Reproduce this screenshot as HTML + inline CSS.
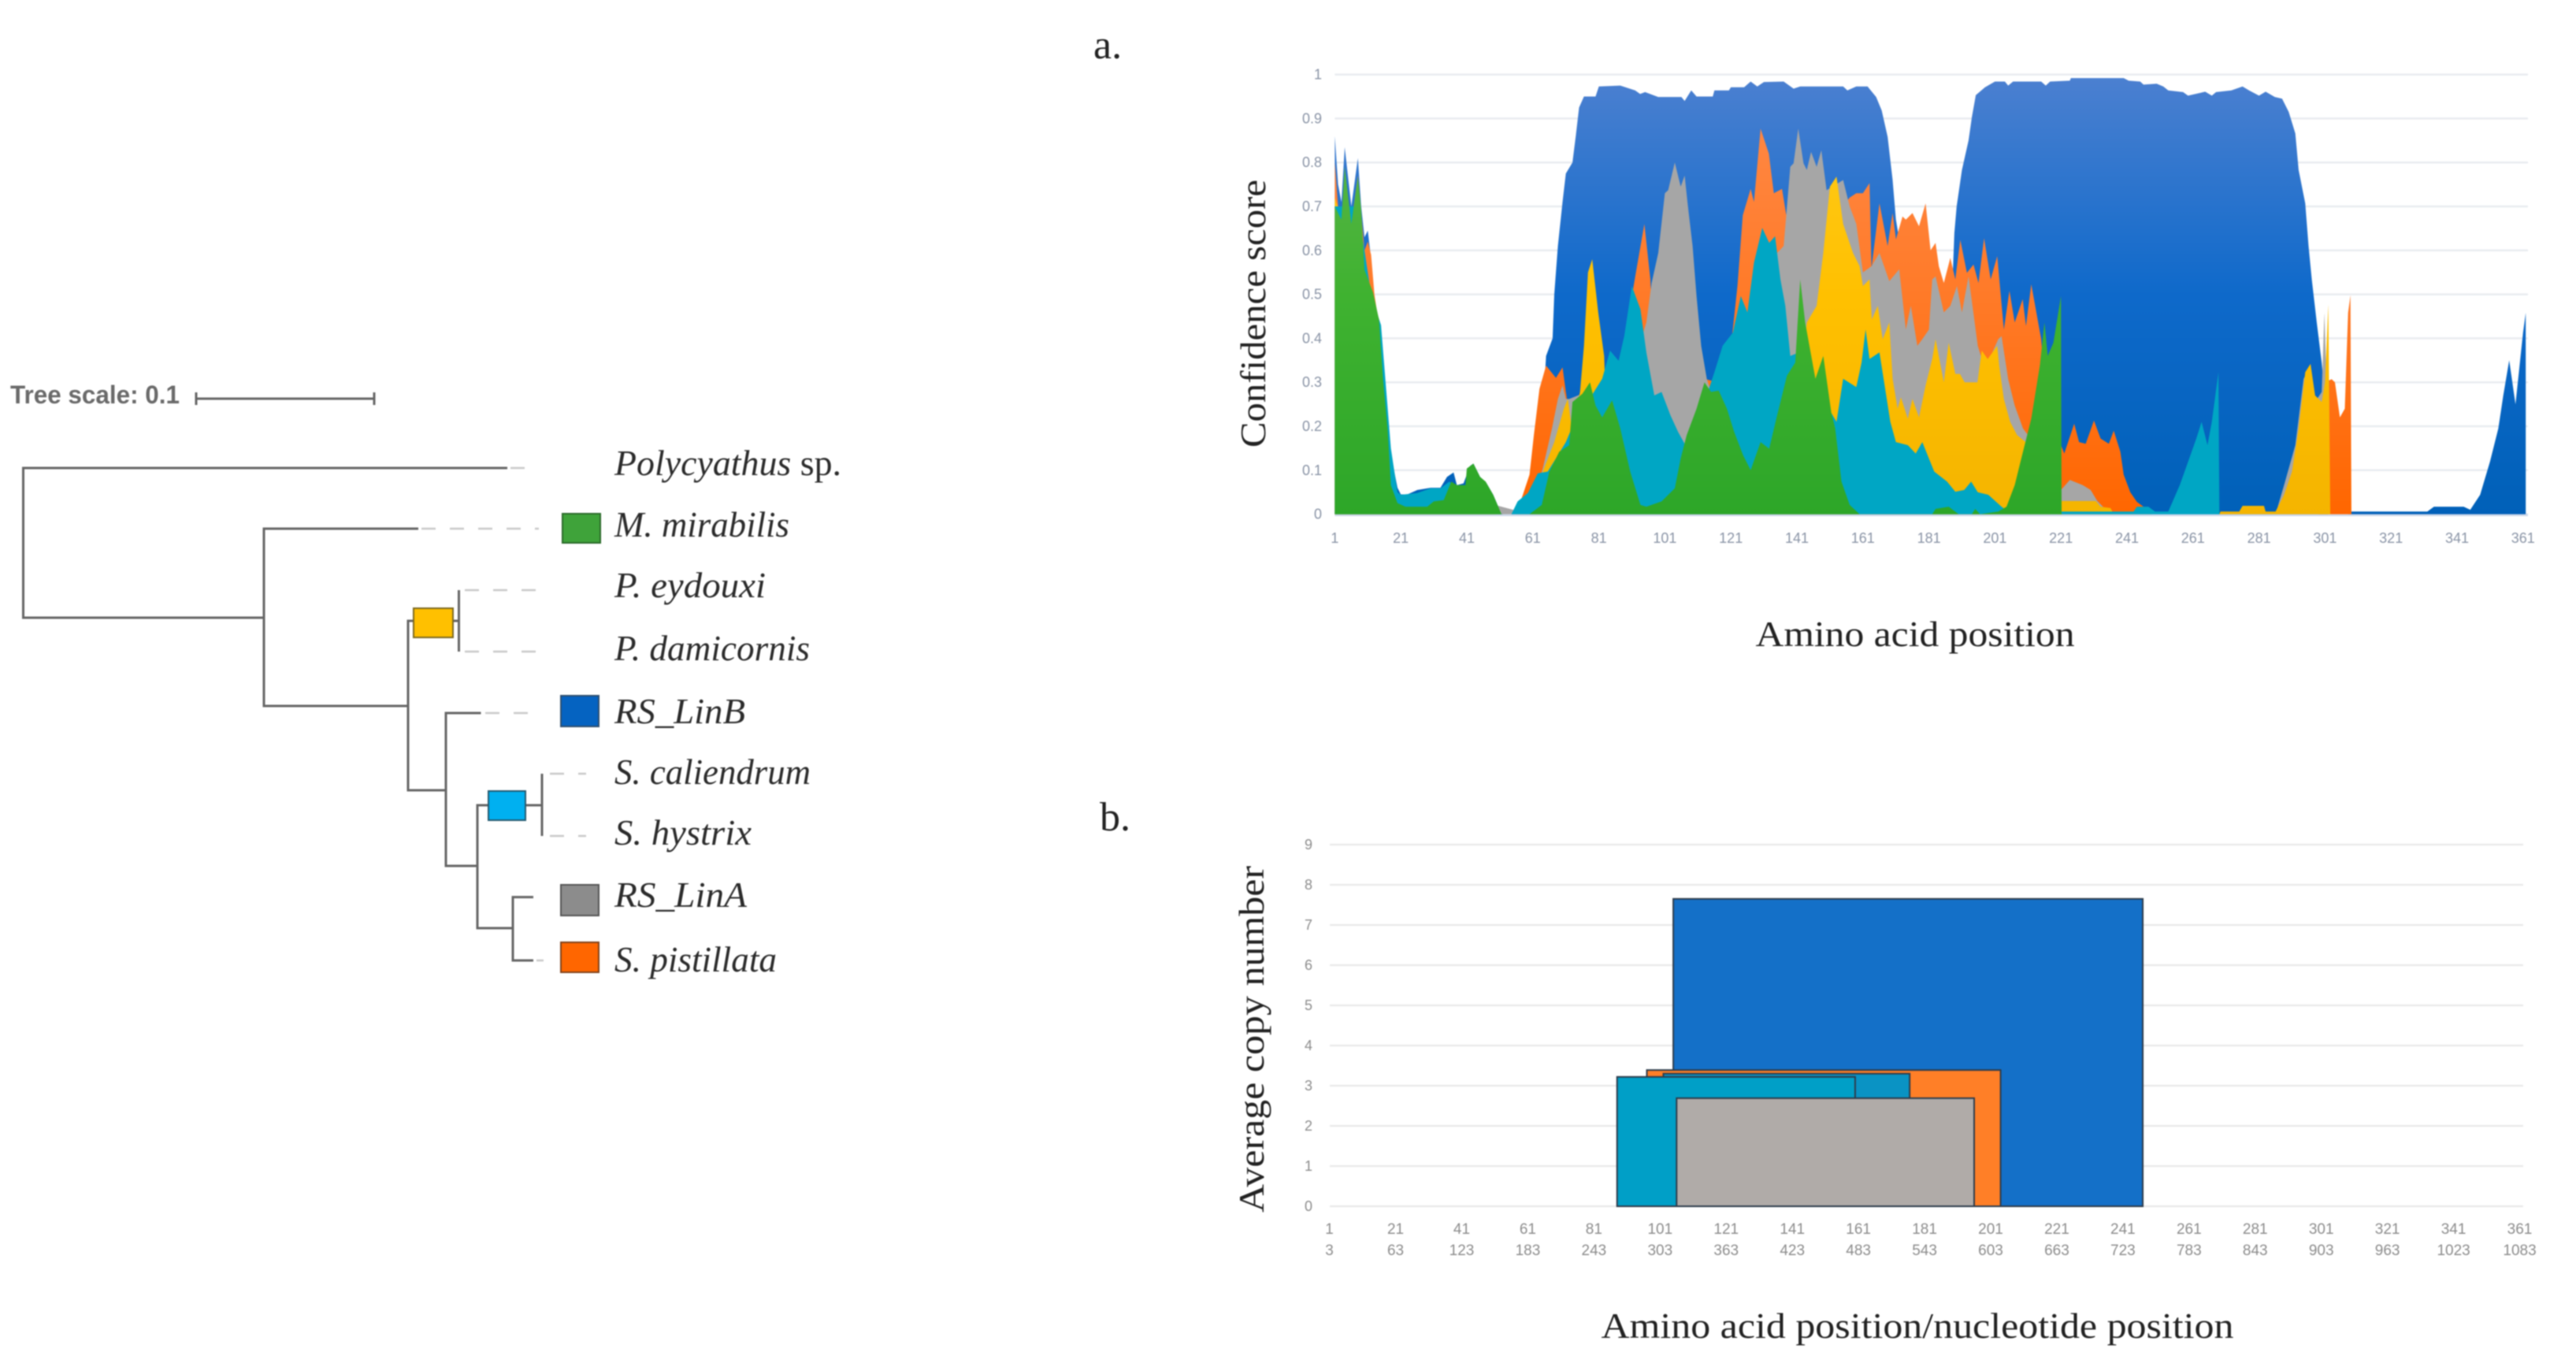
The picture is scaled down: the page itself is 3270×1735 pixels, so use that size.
<!DOCTYPE html>
<html lang="en">
<head>
<meta charset="utf-8">
<title>Tree and confidence charts</title>
<style>
html,body{margin:0;padding:0;background:#fff;width:3270px;height:1735px;overflow:hidden}
svg{display:block;filter:blur(0.9px)}
.sans{font-family:"Liberation Sans",sans-serif}
.serif{font-family:"Liberation Serif",serif}
.sp{font-family:"Liberation Serif",serif;font-style:italic;font-size:46px;fill:#2b2b2b}
.branch{stroke:#666;stroke-width:3;fill:none}
.dash{stroke:#c9c9c9;stroke-width:2.5;stroke-dasharray:18 18;fill:none}
.title{font-family:"Liberation Serif",serif;font-size:46px;fill:#222}
</style>
</head>
<body>
<svg id="figure" xmlns="http://www.w3.org/2000/svg" width="3270" height="1735" viewBox="0 0 3270 1735">
<rect width="3270" height="1735" fill="#fff"/>

<g id="tree">
  <text class="sans" x="13" y="512" font-size="32" font-weight="bold" fill="#6a6a6a" textLength="215" lengthAdjust="spacingAndGlyphs">Tree scale: 0.1</text>
  <path d="M249 506H475M249 498V514M475 498V514" stroke="#666" stroke-width="3" fill="none"/>
  <path class="branch" d="M644 594H29.5V784H335M531 671H335V896H518M582.5 749V827M582.5 788H518V1003H566M610.5 905H566V1099H606M688 982V1061M688 1022H606V1178H651M677 1138.6H651V1219H677"/>
  <path class="dash" d="M648 594H684M535 671H684M590 749H684M590 827H684M616 905H684M698 982H744M698 1061H744M681 1219H690"/>
  <rect x="714" y="652" width="48" height="37" fill="#3fa33a" stroke="#2b6b2a" stroke-width="2"/>
  <rect x="525" y="772" width="50" height="37" fill="#ffc000" stroke="#7d6a20" stroke-width="2"/>
  <rect x="712" y="883" width="48" height="39" fill="#0563c1" stroke="#2f4f70" stroke-width="2"/>
  <rect x="620" y="1004" width="47" height="37" fill="#00b0f0" stroke="#245a70" stroke-width="2"/>
  <rect x="712" y="1123" width="48" height="39" fill="#8c8c8c" stroke="#555" stroke-width="2"/>
  <rect x="712" y="1196" width="48" height="38" fill="#ff6600" stroke="#80431c" stroke-width="2"/>
  <text class="sp" x="780" y="603" textLength="288" lengthAdjust="spacingAndGlyphs">Polycyathus <tspan font-style="normal">sp.</tspan></text>
  <text class="sp" x="780" y="681" textLength="222" lengthAdjust="spacingAndGlyphs">M. mirabilis</text>
  <text class="sp" x="780" y="758" textLength="192" lengthAdjust="spacingAndGlyphs">P. eydouxi</text>
  <text class="sp" x="780" y="838" textLength="248" lengthAdjust="spacingAndGlyphs">P. damicornis</text>
  <text class="sp" x="780" y="918" textLength="166" lengthAdjust="spacingAndGlyphs">RS_LinB</text>
  <text class="sp" x="780" y="995" textLength="249" lengthAdjust="spacingAndGlyphs">S. caliendrum</text>
  <text class="sp" x="780" y="1072" textLength="174" lengthAdjust="spacingAndGlyphs">S. hystrix</text>
  <text class="sp" x="780" y="1151" textLength="168" lengthAdjust="spacingAndGlyphs">RS_LinA</text>
  <text class="sp" x="780" y="1233" textLength="206" lengthAdjust="spacingAndGlyphs">S. pistillata</text>
</g>

<text class="serif" x="1388" y="74" font-size="52" fill="#222">a.</text>
<text class="serif" x="1396" y="1054" font-size="52" fill="#222">b.</text>

<defs>
  <linearGradient id="gBlue" gradientUnits="userSpaceOnUse" x1="0" y1="94" x2="0" y2="653">
    <stop offset="0" stop-color="#4c80d0"/><stop offset="0.5" stop-color="#0e69ca"/><stop offset="1" stop-color="#0060b8"/>
  </linearGradient>
  <linearGradient id="gOrange" gradientUnits="userSpaceOnUse" x1="0" y1="94" x2="0" y2="653">
    <stop offset="0" stop-color="#ff8a4a"/><stop offset="0.5" stop-color="#ff7a28"/><stop offset="1" stop-color="#ff6600"/>
  </linearGradient>
  <linearGradient id="gYellow" gradientUnits="userSpaceOnUse" x1="0" y1="94" x2="0" y2="653">
    <stop offset="0" stop-color="#ffcc20"/><stop offset="0.5" stop-color="#ffc000"/><stop offset="1" stop-color="#f4b400"/>
  </linearGradient>
  <linearGradient id="gGreen" gradientUnits="userSpaceOnUse" x1="0" y1="94" x2="0" y2="653">
    <stop offset="0" stop-color="#62b450"/><stop offset="0.5" stop-color="#3fb230"/><stop offset="1" stop-color="#2da628"/>
  </linearGradient>
</defs>

<g id="chartA"></g>
<text class="title" transform="translate(1606,398) rotate(-90)" text-anchor="middle" textLength="340" lengthAdjust="spacingAndGlyphs">Confidence score</text>
<text class="title" x="2431" y="820" text-anchor="middle" textLength="405" lengthAdjust="spacingAndGlyphs">Amino acid position</text>

<g id="chartB"></g>
<text class="title" transform="translate(1604,1319) rotate(-90)" text-anchor="middle" textLength="440" lengthAdjust="spacingAndGlyphs">Average copy number</text>
<text class="title" x="2434" y="1698" text-anchor="middle" textLength="803" lengthAdjust="spacingAndGlyphs">Amino acid position/nucleotide position</text>
</svg>

<script>
/* ---------- Panel a data ---------- */
const confidenceTicks = [0,0.1,0.2,0.3,0.4,0.5,0.6,0.7,0.8,0.9,1];
const positionTicks = [1,21,41,61,81,101,121,141,161,181,201,221,241,261,281,301,321,341,361];

const bluePos = [1,2,3,4,6,8,9,10,11,12,13,15,16.5,18,20,21,23,26,30,33,35,37,38,40,42,43,45,47,49,51.5,54.5,57.6,61,64,65,67,67.5,68.6,70,71,73,74,75,76.5,80,81,87.5,92,93.5,95,99,106,107,109,110.6,115.5,116,120.4,121,125,127,129,131,137,140,142,155,156.3,159,162.4,165,166.7,168.5,170,171,172,174,178,186,188,188.7,189.4,191,193,194,195.2,198,201,204,205,206.5,215,216.4,217.7,223.7,224,240,241.5,245,246,250,252,253.5,258,259.5,264.7,266.7,268,272.6,276,278,281,283,285.8,288,290,292,293,295,296,297,298.5,300,301,302,308,308.5,332,334,343,345,348,351,353.5,355,356.8,358.7,361,361.8];
const blueVal = [0.86,0.75,0.71,0.835,0.70,0.81,0.70,0.63,0.645,0.58,0.49,0.41,0.27,0.135,0.06,0.045,0.045,0.055,0.06,0.06,0.085,0.095,0.066,0.07,0.11,0.115,0.085,0.07,0.044,0,0,0.036,0.10,0.23,0.36,0.40,0.50,0.61,0.71,0.775,0.80,0.86,0.925,0.95,0.95,0.973,0.975,0.964,0.956,0.96,0.949,0.949,0.94,0.964,0.95,0.95,0.964,0.964,0.971,0.971,0.984,0.973,0.983,0.984,0.968,0.973,0.973,0.964,0.973,0.973,0.949,0.918,0.858,0.76,0.67,0.625,0.5,0.45,0.42,0.5,0.64,0.70,0.783,0.85,0.903,0.953,0.971,0.984,0.984,0.975,0.984,0.984,0.975,0.984,0.986,0.992,0.992,0.986,0.984,0.977,0.979,0.973,0.964,0.96,0.952,0.961,0.952,0.96,0.964,0.973,0.964,0.952,0.961,0.949,0.945,0.915,0.866,0.783,0.707,0.61,0.534,0.436,0.345,0.26,0,0,0.006,0.006,0.017,0.017,0.01,0.044,0.12,0.195,0.27,0.35,0.25,0.413,0.458];

const orangePos = [1,2,3,5,6,8,10,11,12,13,15,16,18,20,22,50,52,56,57.6,60,61.3,63,65,68,70,71,72,75,80,87.5,89,92,94.8,96.6,97,99,105,112,117,121,123,124.6,127,128,130,132.5,134,136.5,138,140,145,150,155,157,159,161,163,163.6,166,168.5,170,171,173,174,176,178,180,181.5,183,184,185.5,187.5,189,190.5,192.5,194.5,196,197.7,199.7,201.7,203.7,205.4,207,209.4,210.4,212,215,216,218,221,222,225,226.5,228.5,231,233,235.5,237,239,240,242,244,246,248.5,299,300,301,303,304,305.5,307,308,308.7,309];
const orangeVal = [0.80,0.70,0.66,0.70,0.66,0.77,0.60,0.62,0.59,0.50,0.40,0.20,0.10,0.04,0.02,0.02,0,0,0.036,0.09,0.18,0.285,0.338,0.31,0.334,0.278,0.23,0.20,0.25,0.35,0.405,0.54,0.66,0.534,0.46,0.38,0.35,0.31,0.30,0.38,0.52,0.68,0.74,0.71,0.877,0.82,0.73,0.74,0.67,0.60,0.55,0.60,0.70,0.72,0.73,0.73,0.753,0.56,0.707,0.61,0.685,0.625,0.677,0.67,0.685,0.655,0.707,0.60,0.617,0.564,0.526,0.583,0.534,0.624,0.549,0.568,0.526,0.628,0.534,0.587,0.42,0.508,0.436,0.489,0.428,0.523,0.398,0.30,0.20,0.157,0.138,0.206,0.164,0.16,0.213,0.172,0.16,0.19,0.142,0.09,0.05,0.028,0.017,0,0,0.1,0.3,0.307,0.30,0.22,0.24,0.458,0.498,0];

const grayPos = [1,10,14,18,20,50,60,64,66.8,68.6,70,71,72,74.7,77,85,90,95.4,97,99,101,102,104,105.8,107,108,109.4,110.6,112,113.7,115,117.3,125,135,137,138,139,140,141.4,143,144,145.3,147,148.4,150,155,157,159,161,163.6,166,169,172,174,175.5,177.5,179,181,182,183,185.5,187.5,189.5,191,193,195.8,198,202,203,205,207,209.5,211,216,220,221,223.7,227.6,230,232,236,286,288.6,292,294.5,296.6,298,300,300.8,301.5,302];
const grayVal = [0.7,0.55,0.4,0.1,0.03,0.02,0,0.104,0.195,0.262,0.293,0.262,0.262,0.27,0.278,0.2,0.3,0.436,0.526,0.594,0.73,0.737,0.80,0.745,0.77,0.70,0.61,0.496,0.383,0.308,0.278,0.27,0.4,0.594,0.61,0.70,0.79,0.798,0.877,0.798,0.783,0.824,0.79,0.828,0.737,0.76,0.70,0.66,0.55,0.564,0.594,0.53,0.557,0.42,0.474,0.383,0.398,0.42,0.534,0.541,0.459,0.474,0.519,0.459,0.541,0.383,0.33,0.398,0.405,0.307,0.247,0.195,0.18,0.1,0.06,0.055,0.078,0.066,0.055,0.03,0,0,0.066,0.157,0.308,0.338,0.255,0.278,0.458,0.3,0];

const yellowPos = [1,6,10,14,18,20,50,62,64,67.5,70.4,71.6,72.8,75.3,76.5,77.7,79,80.8,82.6,83,90,135,142,144,147,149,151,153,155,158,160,161,163,163.7,165.5,167,169,170,171.5,172.5,174.6,176,178,180,182,183,185.5,187,189,190.4,191.8,195.7,197,198.8,201.7,202.3,203.7,205.6,207.7,210.3,212,218,219.9,221,231.6,233,236,237,269,269.3,275,276,282.5,283,286,288.6,291,293,295,296.6,298,300,301,302,302.6];
const yellowVal = [0.72,0.6,0.5,0.38,0.08,0.02,0,0,0.097,0.164,0.24,0.262,0.195,0.278,0.383,0.55,0.58,0.459,0.36,0.278,0,0,0.3,0.436,0.474,0.594,0.745,0.768,0.66,0.594,0.564,0.519,0.534,0.443,0.474,0.398,0.436,0.308,0.24,0.266,0.217,0.262,0.22,0.293,0.353,0.398,0.30,0.39,0.319,0.319,0.30,0.30,0.372,0.353,0.383,0.338,0.262,0.21,0.18,0.164,0.15,0,0,0.03,0.03,0.017,0.014,0,0,0.006,0.006,0.019,0.019,0.006,0.006,0.044,0.097,0.195,0.323,0.342,0.27,0.255,0.3,0.477,0];

const tealPos = [1,8,12,15,18,20,21,26,30,33,35.7,37,38,40,52,54.5,56.4,59.5,62.5,65.5,68.6,71,73,79.5,82,84.4,87,88.7,91,93.6,95.4,97.8,100,102.7,105,107,110,114,116,118.5,121.6,124,126,128,130.5,132.6,134.4,136,137.5,139,141.7,146,153,155,159,160.6,161.8,163,166,169.3,171,174.6,177,179,182.6,186.5,189,191.7,193.8,195.8,199,203,205,221,243,244,247.5,249.5,253.5,257,259.5,262,263.6,265.4,266.7,268.7,269,270];
const tealVal = [0.7,0.7,0.5,0.43,0.15,0.05,0.044,0.048,0.059,0.059,0.074,0.065,0.05,0.02,0,0,0.029,0.048,0.093,0.097,0.134,0.164,0.2,0.278,0.308,0.372,0.349,0.406,0.519,0.466,0.368,0.27,0.278,0.225,0.187,0.16,0.2,0.278,0.323,0.383,0.413,0.496,0.459,0.572,0.651,0.617,0.632,0.534,0.474,0.36,0.368,0.3,0.21,0.308,0.289,0.345,0.42,0.353,0.368,0.21,0.164,0.157,0.138,0.164,0.097,0.074,0.051,0.055,0.074,0.05,0.044,0.017,0.006,0.006,0.006,0.017,0.017,0.006,0.006,0.066,0.119,0.172,0.21,0.157,0.21,0.323,0,0];

const greenPos = [1,3,4,6,8,9,10,12.6,14.4,15.6,17,18,20,22.4,29,31,34,36.3,38,40.6,41,43,45,46.7,49,51.5,60,63.7,66,69,72,73,76,78.3,80,82,85,87.5,90.5,93.6,95.4,100,104,105.8,107.6,110.6,113,115,117.3,119.8,122,124.7,127,130,132.6,135,138,140.5,142,143.5,146.6,149,151.4,152.6,154.5,157,160,182,183,187,190,194,195,196.5,202,204.5,207,209,212,214.6,216,217,218.7,221,221.2];
const greenVal = [0.70,0.67,0.79,0.66,0.768,0.692,0.556,0.504,0.443,0.308,0.195,0.066,0.025,0.017,0.017,0.029,0.032,0.074,0.066,0.066,0.104,0.115,0.085,0.074,0.044,0,0,0.021,0.097,0.142,0.157,0.255,0.274,0.30,0.247,0.22,0.259,0.195,0.097,0.021,0.017,0.029,0.059,0.127,0.18,0.24,0.30,0.278,0.281,0.24,0.187,0.134,0.10,0.164,0.149,0.225,0.315,0.345,0.534,0.436,0.308,0.36,0.232,0.195,0.074,0.021,0,0,0.012,0.017,0,0,0.012,0,0.006,0.017,0.066,0.127,0.217,0.338,0.436,0.36,0.39,0.496,0];

/* ---------- Panel b data ---------- */
const copyTicks = [0,1,2,3,4,5,6,7,8,9];
const aminoTicks = [1,21,41,61,81,101,121,141,161,181,201,221,241,261,281,301,321,341,361];
const nucleotideTicks = [3,63,123,183,243,303,363,423,483,543,603,663,723,783,843,903,963,1023,1083];
const blockNames = ['block-linb','block-pistillata','block-seriatopora-upper','block-seriatopora-lower','block-lina'];
const blockStart = [105,97,102,88,106];
const blockEnd = [247,204,176.5,160,196];
const blockCopy = [7.65,3.39,3.3,3.22,2.69];
const blockFill = ['#1470c8','#ff7f27','#0a93c4','#009fc7','#b0aba8'];

/* ---------- Axis functions ---------- */
function xA(p){ return 1694.4 + (p - 1) * 4.19; }
function yA(v){ return 652.6 - v * 558; }
function xB(p){ return 1687.6 + (p - 1) * 4.197; }
function yB(v){ return 1531 - v * 51; }

const NS = 'http://www.w3.org/2000/svg';
function make(parent, tag, attrs, txt){
  const el = document.createElementNS(NS, tag);
  for (const k in attrs) el.setAttribute(k, attrs[k]);
  if (txt !== undefined) el.textContent = txt;
  parent.appendChild(el);
  return el;
}
function areaPath(pos, val){
  let d = 'M' + xA(pos[0]).toFixed(1) + ' ' + yA(0).toFixed(1);
  for (let i = 0; i < pos.length; i++) d += 'L' + xA(pos[i]).toFixed(1) + ' ' + yA(val[i]).toFixed(1);
  d += 'L' + xA(pos[pos.length - 1]).toFixed(1) + ' ' + yA(0).toFixed(1) + 'Z';
  return d;
}

/* ---------- Panel a render ---------- */
const chartA = document.getElementById('chartA');
confidenceTicks.forEach(function(t){
  const line = make(chartA, 'line', {x1: xA(1), x2: 3209, y1: yA(t), y2: yA(t), stroke: '#e9ecf0', 'stroke-width': 2.5});
  
  
  const lab = make(chartA, 'text', {x: 1678, y: yA(t) + 6, 'text-anchor': 'end', 'font-size': 18, fill: '#8a94a6', class: 'sans'}, String(t));
  
  
});
positionTicks.forEach(function(t){
  const lab = make(chartA, 'text', {x: xA(t), y: 689, 'text-anchor': 'middle', 'font-size': 18, fill: '#8a94a6', class: 'sans'}, String(t));
  
  
});
const baseA = make(chartA, 'line', {x1: xA(1), x2: 3209, y1: yA(0) + 1, y2: yA(0) + 1, stroke: '#cfd9ea', 'stroke-width': 3});



const areaBlue = make(chartA, 'path', {d: areaPath(bluePos, blueVal), fill: 'url(#gBlue)'});


const areaOrange = make(chartA, 'path', {d: areaPath(orangePos, orangeVal), fill: 'url(#gOrange)'});


const areaGray = make(chartA, 'path', {d: areaPath(grayPos, grayVal), fill: '#a6a6a6'});


const areaYellow = make(chartA, 'path', {d: areaPath(yellowPos, yellowVal), fill: 'url(#gYellow)'});


const areaTeal = make(chartA, 'path', {d: areaPath(tealPos, tealVal), fill: '#00a6c4'});


const areaGreen = make(chartA, 'path', {d: areaPath(greenPos, greenVal), fill: 'url(#gGreen)'});



/* ---------- Panel b render ---------- */
const chartB = document.getElementById('chartB');
copyTicks.forEach(function(t){
  const line = make(chartB, 'line', {x1: 1688, x2: 3203, y1: yB(t), y2: yB(t), stroke: '#ebebeb', 'stroke-width': 2.5});
  
  
  const lab = make(chartB, 'text', {x: 1661, y: yB(t) + 6, 'text-anchor': 'middle', 'font-size': 18, fill: '#8c8c8c', class: 'sans'}, String(t));
  
  
});
aminoTicks.forEach(function(t){
  const lab = make(chartB, 'text', {x: xB(t), y: 1566, 'text-anchor': 'middle', 'font-size': 19, fill: '#8c8c8c', class: 'sans'}, String(t));
  
  
});
nucleotideTicks.forEach(function(t, i){
  const lab = make(chartB, 'text', {x: xB(aminoTicks[i]), y: 1593, 'text-anchor': 'middle', 'font-size': 19, fill: '#8c8c8c', class: 'sans'}, String(t));
  
  
});
blockNames.forEach(function(name, i){
  const r = make(chartB, 'rect', {
    x: xB(blockStart[i]), y: yB(blockCopy[i]),
    width: xB(blockEnd[i]) - xB(blockStart[i]),
    height: yB(0) - yB(blockCopy[i]),
    fill: blockFill[i], stroke: '#2d3c4c', 'stroke-width': 2
  });
  
  
});
</script>
</body>
</html>
